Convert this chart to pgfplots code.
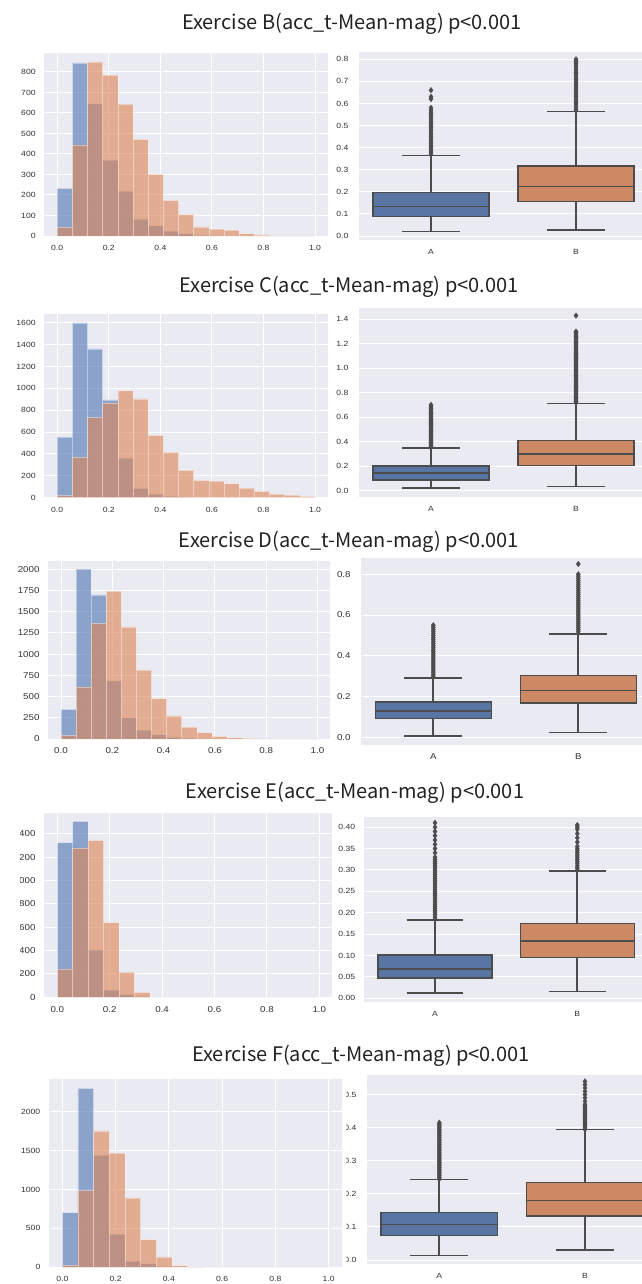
\documentclass[border=0pt]{standalone}
\usepackage{fontspec}
\setmainfont{Liberation Sans}
\newfontfamily\tickfont[FakeStretch=1.15]{Liberation Sans}
\newfontfamily\titlefont{Noto Sans CJK JP}
\usepackage{pgfplots}
\usepackage{pgfplotstable}
\pgfplotsset{compat=1.18}
\usepgfplotslibrary{statistics}

\definecolor{bgcol}{HTML}{EAEAF2}
\definecolor{histA}{HTML}{4C72B0}
\definecolor{histB}{HTML}{DD8452}
\definecolor{boxA}{HTML}{5975A4}
\definecolor{boxB}{HTML}{CC8963}
\definecolor{boxline}{HTML}{4C4C4C}
\definecolor{tickcol}{HTML}{333333}
\definecolor{titlecol}{HTML}{222222}

\pgfplotsset{
  sb/.style={scale only axis, axis background/.style={fill=bgcol},
    axis line style={draw=none}, major tick length=0pt,
    major grid style={white, line width=1pt},
    tick label style={font=\tickfont\fontsize{7.5}{9}\selectfont, text=tickcol, inner sep=0pt},
    /pgf/number format/assume math mode=true,
    xticklabel style={anchor=center, yshift=-12pt},
    scaled y ticks=false, anchor=south west},
  hist/.style={sb, grid=major, xmin=-0.05, xmax=1.05, ymin=0,
    xtick={0,0.2,0.4,0.6,0.8,1}, xticklabels={0.0,0.2,0.4,0.6,0.8,1.0},
    yticklabel style={anchor=east, xshift=-8.5pt, /pgf/number format/fixed, /pgf/number format/1000 sep={}}},
  bx/.style={sb, xmajorgrids=false, ymajorgrids=true, xmin=-0.5, xmax=1.5,
    xtick={0,1}, xticklabels={A,B},
    yticklabel style={anchor=east, xshift=-10pt, /pgf/number format/fixed, /pgf/number format/fixed zerofill, /pgf/number format/precision=1}},
  hA/.style={ybar interval, fill=histA, fill opacity=0.6, draw=white, draw opacity=0.4, line width=0.5pt},
  hB/.style={ybar interval, fill=histB, fill opacity=0.6, draw=white, draw opacity=0.4, line width=0.5pt},
  bstyle/.style={boxplot/draw direction=y, draw=boxline, line width=1.4pt,
    boxplot/every box/.style={line width=1.4pt, draw=boxline},
    boxplot/every whisker/.style={line width=1.7pt, draw=boxline},
    boxplot/every median/.style={line width=1.5pt, draw=boxline},
    mark=diamond*, mark size=2.8pt,
    mark options={fill=boxline, draw=boxline, line width=0.3pt}},
}

\pgfplotstableread{
x a b
0.0000 232 42
0.0588 844 445
0.1176 646 849
0.1765 370 784
0.2353 219 643
0.2941 84 471
0.3529 50 300
0.4118 24 174
0.4706 11 104
0.5294 3 45
0.5882 1 34
0.6471 0 29
0.7059 0 11
0.7647 0 5
0.8235 0 0
0.8824 0 0
0.9412 0 0
1.0000 0 0
}\histBex

\pgfplotstableread{
x a b
0.0000 554 18
0.0588 1600 368
0.1176 1360 733
0.1765 894 864
0.2353 365 979
0.2941 85 903
0.3529 36 569
0.4118 15 414
0.4706 5 249
0.5294 2 158
0.5882 0 152
0.6471 0 128
0.7059 0 88
0.7647 0 58
0.8235 0 33
0.8824 0 24
0.9412 0 12
1.0000 0 0
}\histCex

\pgfplotstableread{
x a b
0.0000 350 39
0.0588 2000 613
0.1176 1697 1360
0.1765 688 1741
0.2353 251 1320
0.2941 106 813
0.3529 51 475
0.4118 24 271
0.4706 10 141
0.5294 3 75
0.5882 0 31
0.6471 0 16
0.7059 0 6
0.7647 0 2
0.8235 0 0
0.8824 0 0
0.9412 0 0
1.0000 0 0
}\histDex

\pgfplotstableread{
x a b
0.0000 1323 242
0.0588 1505 1278
0.1176 407 1343
0.1765 63 640
0.2353 26 216
0.2941 8 43
0.3529 0 0
0.4118 0 0
0.4706 0 0
0.5294 0 0
0.5882 0 0
0.6471 0 0
0.7059 0 0
0.7647 0 0
0.8235 0 0
0.8824 0 0
0.9412 0 0
1.0000 0 0
}\histEex

\pgfplotstableread{
x a b
0.0000 702 26
0.0588 2300 985
0.1176 1443 1752
0.1765 428 1469
0.2353 81 891
0.2941 47 355
0.3529 13 133
0.4118 0 21
0.4706 0 4
0.5294 0 0
0.5882 0 0
0.6471 0 0
0.7059 0 0
0.7647 0 0
0.8235 0 0
0.8824 0 0
0.9412 0 0
1.0000 0 0
}\histFex

\begin{document}
\begin{tikzpicture}
\path[use as bounding box] (0pt,0pt) rectangle (641pt,-1284pt);

% ---------------- titles
\begin{scope}[every node/.style={anchor=base, text=titlecol, font=\titlefont\fontsize{20}{22}\selectfont, inner sep=0pt}]
\node at (352pt,-30pt) {Exercise B(acc\_t-Mean-mag) p<0.001};
\node at (349pt,-292pt) {Exercise C(acc\_t-Mean-mag) p<0.001};
\node at (349pt,-547pt) {Exercise D(acc\_t-Mean-mag) p<0.001};
\node at (355pt,-798pt) {Exercise E(acc\_t-Mean-mag) p<0.001};
\node at (361pt,-1061pt) {Exercise F(acc\_t-Mean-mag) p<0.001};
\end{scope}

% ---------------- row B
\begin{axis}[hist, at={(44.3pt,-236pt)}, width=283.6pt, height=182.7pt, ymax=891,
  ytick={0,100,200,300,400,500,600,700,800}]
\addplot[hA] table[x=x,y=a] {\histBex};
\addplot[hB] table[x=x,y=b] {\histBex};
\end{axis}
\begin{axis}[bx, at={(358.5pt,-240pt)}, width=290pt, height=188.5pt, ymin=-0.018, ymax=0.835,
  ytick={0,0.1,0.2,0.3,0.4,0.5,0.6,0.7,0.8}]
\addplot[bstyle, fill=boxA, boxplot prepared={draw position=0, lower whisker=0.020, lower quartile=0.0875, median=0.133, upper quartile=0.198, upper whisker=0.364, box extend=0.8, whisker extend=0.4}]
 table[row sep=\\, y index=0] {data\\ 0.37\\ 0.38\\ 0.39\\ 0.40\\ 0.41\\ 0.42\\ 0.43\\ 0.44\\ 0.45\\ 0.46\\ 0.47\\ 0.48\\ 0.49\\ 0.50\\ 0.51\\ 0.52\\ 0.53\\ 0.54\\ 0.55\\ 0.56\\ 0.57\\ 0.58\\ 0.62\\ 0.63\\ 0.66\\};
\addplot[bstyle, fill=boxB, boxplot prepared={draw position=1, lower whisker=0.026, lower quartile=0.155, median=0.223, upper quartile=0.317, upper whisker=0.563, box extend=0.8, whisker extend=0.4}]
 table[row sep=\\, y index=0] {data\\ 0.57\\ 0.58\\ 0.59\\ 0.60\\ 0.61\\ 0.62\\ 0.63\\ 0.64\\ 0.65\\ 0.66\\ 0.67\\ 0.68\\ 0.69\\ 0.70\\ 0.71\\ 0.72\\ 0.73\\ 0.74\\ 0.75\\ 0.76\\ 0.77\\ 0.78\\ 0.79\\ 0.80\\};
\end{axis}

% ---------------- row C
\begin{axis}[hist, at={(44.3pt,-497.7pt)}, width=283.6pt, height=183.7pt, ymax=1680,
  ytick={0,200,400,600,800,1000,1200,1400,1600}]
\addplot[hA] table[x=x,y=a] {\histCex};
\addplot[hB] table[x=x,y=b] {\histCex};
\end{axis}
\begin{axis}[bx, at={(358.5pt,-497.3pt)}, width=290pt, height=189pt, ymin=-0.056, ymax=1.49,
  ytick={0,0.2,0.4,0.6,0.8,1.0,1.2,1.4}]
\addplot[bstyle, fill=boxA, boxplot prepared={draw position=0, lower whisker=0.019, lower quartile=0.087, median=0.142, upper quartile=0.199, upper whisker=0.346, box extend=0.8, whisker extend=0.4}]
 table[row sep=\\, y index=0] {data\\ 0.35\\ 0.36\\ 0.37\\ 0.38\\ 0.39\\ 0.40\\ 0.41\\ 0.42\\ 0.43\\ 0.44\\ 0.45\\ 0.46\\ 0.47\\ 0.48\\ 0.49\\ 0.50\\ 0.51\\ 0.52\\ 0.53\\ 0.54\\ 0.55\\ 0.56\\ 0.57\\ 0.58\\ 0.59\\ 0.60\\ 0.61\\ 0.62\\ 0.63\\ 0.64\\ 0.65\\ 0.66\\ 0.67\\ 0.68\\ 0.69\\ 0.70\\};
\addplot[bstyle, fill=boxB, boxplot prepared={draw position=1, lower whisker=0.033, lower quartile=0.204, median=0.297, upper quartile=0.411, upper whisker=0.711, box extend=0.8, whisker extend=0.4}]
 table[row sep=\\, y index=0] {data\\ 0.72\\ 0.73\\ 0.74\\ 0.75\\ 0.76\\ 0.77\\ 0.78\\ 0.79\\ 0.80\\ 0.81\\ 0.82\\ 0.83\\ 0.84\\ 0.85\\ 0.86\\ 0.87\\ 0.88\\ 0.89\\ 0.90\\ 0.91\\ 0.92\\ 0.93\\ 0.94\\ 0.95\\ 0.96\\ 0.97\\ 0.98\\ 0.99\\ 1.00\\ 1.01\\ 1.02\\ 1.03\\ 1.04\\ 1.05\\ 1.06\\ 1.07\\ 1.08\\ 1.09\\ 1.10\\ 1.11\\ 1.12\\ 1.13\\ 1.14\\ 1.15\\ 1.16\\ 1.17\\ 1.18\\ 1.19\\ 1.20\\ 1.21\\ 1.22\\ 1.23\\ 1.24\\ 1.25\\ 1.26\\ 1.27\\ 1.28\\ 1.29\\ 1.30\\ 1.43\\};
\end{axis}

% ---------------- row D
\begin{axis}[hist, at={(48.2pt,-739pt)}, width=282.1pt, height=178.3pt, ymax=2100,
  ytick={0,250,500,750,1000,1250,1500,1750,2000},
  tick label style={font=\tickfont\fontsize{8.5}{10}\selectfont}]
\addplot[hA] table[x=x,y=a] {\histDex};
\addplot[hB] table[x=x,y=b] {\histDex};
\end{axis}
\begin{axis}[bx, at={(360.8pt,-745pt)}, width=290pt, height=187.3pt, ymin=-0.037, ymax=0.881,
  ytick={0,0.2,0.4,0.6,0.8},
  tick label style={font=\tickfont\fontsize{8.5}{10}\selectfont}]
\addplot[bstyle, fill=boxA, boxplot prepared={draw position=0, lower whisker=0.0065, lower quartile=0.093, median=0.129, upper quartile=0.173, upper whisker=0.292, box extend=0.8, whisker extend=0.4}]
 table[row sep=\\, y index=0] {data\\ 0.30\\ 0.31\\ 0.32\\ 0.33\\ 0.34\\ 0.35\\ 0.36\\ 0.37\\ 0.38\\ 0.39\\ 0.40\\ 0.41\\ 0.42\\ 0.43\\ 0.44\\ 0.45\\ 0.46\\ 0.47\\ 0.48\\ 0.49\\ 0.50\\ 0.51\\ 0.52\\ 0.53\\ 0.54\\ 0.55\\};
\addplot[bstyle, fill=boxB, boxplot prepared={draw position=1, lower whisker=0.024, lower quartile=0.168, median=0.230, upper quartile=0.305, upper whisker=0.508, box extend=0.8, whisker extend=0.4}]
 table[row sep=\\, y index=0] {data\\ 0.51\\ 0.52\\ 0.53\\ 0.54\\ 0.55\\ 0.56\\ 0.57\\ 0.58\\ 0.59\\ 0.60\\ 0.61\\ 0.62\\ 0.63\\ 0.64\\ 0.65\\ 0.66\\ 0.67\\ 0.68\\ 0.69\\ 0.70\\ 0.71\\ 0.72\\ 0.73\\ 0.74\\ 0.75\\ 0.76\\ 0.77\\ 0.78\\ 0.79\\ 0.80\\ 0.85\\};
\end{axis}

% ---------------- row E
\begin{scope}
\clip (20.5pt,-800pt) rectangle (345pt,-1030pt);
\begin{axis}[hist, at={(44.2pt,-997.3pt)}, width=288.2pt, height=184.6pt, ymax=1580,
  ytick={0,200,400,600,800,1000,1200,1400},
  tick label style={font=\tickfont\fontsize{8.5}{10}\selectfont}]
\addplot[hA] table[x=x,y=a] {\histEex};
\addplot[hB] table[x=x,y=b] {\histEex};
\end{axis}
\end{scope}
\begin{axis}[bx, at={(363.85pt,-1001.7pt)}, width=284.6pt, height=184.4pt, ymin=-0.008, ymax=0.423,
  ytick={0,0.05,0.10,0.15,0.20,0.25,0.30,0.35,0.40},
  yticklabel style={/pgf/number format/precision=2, xshift=1.5pt}]
\addplot[bstyle, fill=boxA, boxplot prepared={draw position=0, lower whisker=0.0125, lower quartile=0.047, median=0.069, upper quartile=0.101, upper whisker=0.183, box extend=0.8, whisker extend=0.4}]
 table[row sep=\\, y index=0] {data\\ 0.185\\ 0.19\\ 0.195\\ 0.20\\ 0.205\\ 0.21\\ 0.215\\ 0.22\\ 0.225\\ 0.23\\ 0.235\\ 0.24\\ 0.245\\ 0.25\\ 0.255\\ 0.26\\ 0.265\\ 0.27\\ 0.275\\ 0.28\\ 0.285\\ 0.29\\ 0.295\\ 0.30\\ 0.305\\ 0.31\\ 0.315\\ 0.32\\ 0.325\\ 0.33\\ 0.34\\ 0.35\\ 0.36\\ 0.37\\ 0.38\\ 0.39\\ 0.40\\ 0.41\\};
\addplot[bstyle, fill=boxB, boxplot prepared={draw position=1, lower whisker=0.0156, lower quartile=0.096, median=0.134, upper quartile=0.175, upper whisker=0.297, box extend=0.8, whisker extend=0.4}]
 table[row sep=\\, y index=0] {data\\ 0.30\\ 0.305\\ 0.31\\ 0.315\\ 0.32\\ 0.325\\ 0.33\\ 0.335\\ 0.34\\ 0.345\\ 0.35\\ 0.355\\ 0.365\\ 0.375\\ 0.385\\ 0.395\\ 0.40\\ 0.405\\};
\end{axis}

% ---------------- row F
\begin{axis}[hist, at={(49pt,-1267.3pt)}, width=292.9pt, height=188.3pt, ymax=2420,
  ytick={0,500,1000,1500,2000}]
\addplot[hA] table[x=x,y=a] {\histFex};
\addplot[hB] table[x=x,y=b] {\histFex};
\end{axis}
\begin{scope}
\clip (346.5pt,-1066pt) rectangle (700pt,-1290pt);
\begin{axis}[bx, at={(366.5pt,-1264.3pt)}, width=291.3pt, height=189.3pt, ymin=-0.013, ymax=0.559,
  ytick={0,0.1,0.2,0.3,0.4,0.5}]
\addplot[bstyle, fill=boxA, boxplot prepared={draw position=0, lower whisker=0.014, lower quartile=0.0744, median=0.108, upper quartile=0.144, upper whisker=0.243, box extend=0.8, whisker extend=0.4}]
 table[row sep=\\, y index=0] {data\\ 0.245\\ 0.25\\ 0.255\\ 0.26\\ 0.265\\ 0.27\\ 0.275\\ 0.28\\ 0.285\\ 0.29\\ 0.295\\ 0.30\\ 0.305\\ 0.31\\ 0.315\\ 0.32\\ 0.325\\ 0.33\\ 0.335\\ 0.34\\ 0.345\\ 0.35\\ 0.355\\ 0.36\\ 0.365\\ 0.37\\ 0.375\\ 0.38\\ 0.385\\ 0.39\\ 0.395\\ 0.40\\ 0.405\\ 0.41\\ 0.415\\};
\addplot[bstyle, fill=boxB, boxplot prepared={draw position=1, lower whisker=0.030, lower quartile=0.133, median=0.180, upper quartile=0.235, upper whisker=0.394, box extend=0.8, whisker extend=0.4}]
 table[row sep=\\, y index=0] {data\\ 0.395\\ 0.40\\ 0.405\\ 0.41\\ 0.415\\ 0.42\\ 0.425\\ 0.43\\ 0.435\\ 0.44\\ 0.445\\ 0.45\\ 0.455\\ 0.46\\ 0.465\\ 0.47\\ 0.48\\ 0.49\\ 0.50\\ 0.51\\ 0.52\\ 0.53\\ 0.54\\};
\end{axis}
\end{scope}
\end{tikzpicture}
\end{document}
